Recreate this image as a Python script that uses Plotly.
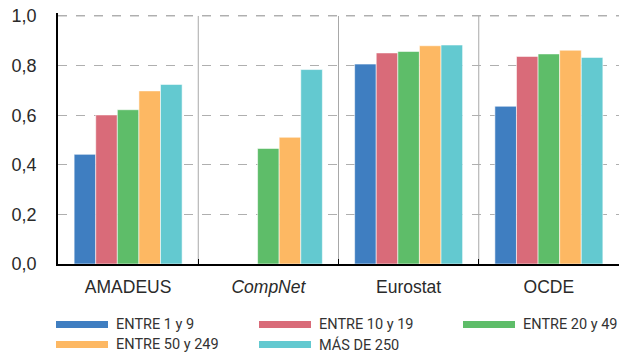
import plotly.graph_objects as go

categories = ["AMADEUS", "<i>CompNet</i>", "Eurostat", "OCDE"]
series_names = ["ENTRE 1 y 9", "ENTRE 10 y 19", "ENTRE 20 y 49", "ENTRE 50 y 249", "MÁS DE 250"]
s1 = [0.442, None, 0.806, 0.636]
s2 = [0.601, None, 0.851, 0.837]
s3 = [0.622, 0.466, 0.857, 0.847]
s4 = [0.698, 0.511, 0.880, 0.862]
s5 = [0.724, 0.784, 0.883, 0.833]
series_values = [s1, s2, s3, s4, s5]
colors = ["#3F7EC1", "#D96B79", "#5EBD69", "#FDB863", "#63C9D0"]
y_ticks = [0, 0.2, 0.4, 0.6, 0.8, 1.0]

W, H = 619, 354
YMAX = 1.012
L, R, B = 58, 0, 90
T = (H - B) - 248 * YMAX
PW, PH = W - L - R, H - T - B

def px(x):
    return (x - L) / PW

def py(y):
    return (H - B - y) / PH

fig = go.Figure()
for name, vals, c in zip(series_names, series_values, colors):
    fig.add_trace(go.Bar(x=categories, y=vals, name=name, marker_color=c,
                         marker_line=dict(color="rgba(255,255,255,0.7)", width=0.8),
                         showlegend=False))

shapes = []
for b in [0.5, 1.5, 2.5]:
    shapes.append(dict(type="line", xref="x", yref="y", x0=b, x1=b, y0=0, y1=y_ticks[-1],
                       line=dict(color="#A8A8A8", width=1), layer="below"))
# top gridline (at the last tick) drawn explicitly
shapes.append(dict(type="line", xref="paper", yref="y", x0=0, x1=1, y0=y_ticks[-1], y1=y_ticks[-1],
                   line=dict(color="#AFAFAF", width=1, dash="dash"), layer="below"))

# manual legend
legend_pos = [(56, 324.5), (259, 324.5), (463, 324.5), (56, 344.5), (259, 344.5)]
annotations = []
for (lx, ly), name, c in zip(legend_pos, series_names, colors):
    shapes.append(dict(type="rect", xref="paper", yref="paper",
                       x0=px(lx), x1=px(lx + 52), y0=py(ly + 3.5), y1=py(ly - 3.5),
                       fillcolor=c, line=dict(width=0)))
    annotations.append(dict(xref="paper", yref="paper", x=px(lx + 59), y=py(ly),
                            text=name, showarrow=False, xanchor="left", yanchor="middle",
                            xshift=-1,
                            font=dict(family="Roboto, sans-serif", size=14.5, color="#333333")))

fig.update_layout(
    width=W, height=H,
    margin=dict(l=L, r=R, t=T, b=B, pad=0),
    paper_bgcolor="white", plot_bgcolor="white",
    barmode="group", bargap=0.23, bargroupgap=0,
    separators=",.",
    font=dict(family="Liberation Sans, Arial, sans-serif", size=17, color="#333333"),
    shapes=shapes, annotations=annotations,
    showlegend=False,
)
fig.update_xaxes(showline=True, linecolor="black", linewidth=1.5, ticks="inside", ticklen=5,
                 tickcolor="black", tickson="boundaries", showgrid=False,
                 ticklabelstandoff=6, tickfont=dict(size=17.5, color="#2a2a2a"))
fig.update_yaxes(range=[0, YMAX], tickvals=y_ticks, tickformat=".1f", showline=True,
                 linecolor="black", linewidth=1.5, showgrid=True, gridcolor="#AFAFAF",
                 griddash="dash", gridwidth=1, zeroline=False, ticks="", ticklabelstandoff=16,
                 tickfont=dict(size=18, color="#2a2a2a"))

fig.write_html("out.html")
